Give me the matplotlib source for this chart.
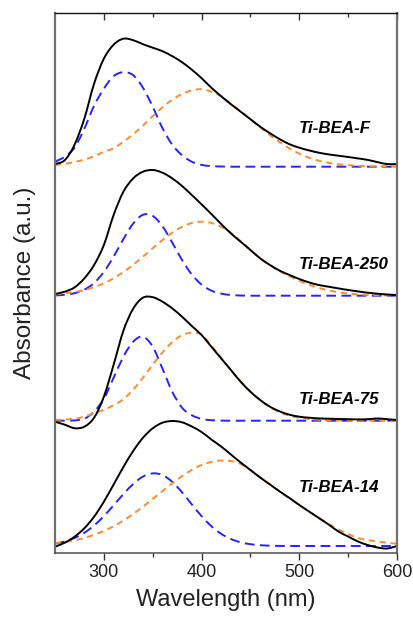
import matplotlib
matplotlib.use("Agg")
import matplotlib.pyplot as plt
from matplotlib.path import Path
from matplotlib.patches import PathPatch

# ---------------- data ----------------
wavelength = [250, 260, 270, 280, 290, 300, 310, 320, 330, 340, 350, 360,
              370, 380, 390, 400, 410, 420, 430, 440, 450, 460, 470, 480,
              490, 500, 510, 520, 530, 540, 550, 560, 570, 580, 590, 600]

samples = ["Ti-BEA-F", "Ti-BEA-250", "Ti-BEA-75", "Ti-BEA-14"]

total_F = [2.7, 6.5, 22, 48, 83, 108, 122, 128, 126.5, 122.5, 119, 115.5,
           110.5, 104.5, 97, 88.5, 79, 70.5, 62.5, 55, 47.5, 40, 33.5, 27.5,
           22.5, 19, 16.3, 14, 12.3, 11, 9.7, 8.3, 6.8, 4.6, 2.6, 2.7]
band1_F = [5, 10, 19, 38, 61, 78, 90.5, 94.5, 91.5, 79, 60, 38.5,
           22, 11.5, 5, 1.8, 0.6, 0.2, 0, 0, 0, 0, 0, 0,
           0, 0, 0, 0, 0, 0, 0, 0, 0, 0, 0, 0]
band2_F = [1.8, 2.9, 4.7, 7.1, 10.5, 14.9, 18.5, 25, 32.5, 41, 50.5, 59.5,
           67, 72.8, 76.3, 77.5, 75, 70.5, 63, 55.5, 47.5, 39.5, 31.5, 24.5,
           18.2, 13, 9, 6, 3.9, 2.4, 1.5, 0.9, 0.5, 0.3, 0.2, 0.1]

total_250 = [1.7, 4, 8.3, 17.3, 30.7, 50.7, 80.7, 104, 117.3, 124, 125.7, 123,
             117.3, 109.7, 100.7, 91.3, 81.7, 71.7, 62.3, 54, 45.7, 37.3, 30.7, 25,
             20.7, 16.7, 13.3, 10.7, 9, 7.3, 5.7, 4.3, 3, 2, 1.2, 0.7]
band1_250 = [0.3, 0.9, 2.5, 6, 12.7, 23.8, 39.1, 56.6, 72.1, 80.9, 79.8, 69.4,
             53.1, 35.7, 21.2, 11.1, 5.1, 2.1, 0.7, 0.2, 0, 0, 0, 0,
             0, 0, 0, 0, 0, 0, 0, 0, 0, 0, 0, 0]
band2_250 = [1.3, 2.3, 3.7, 5.7, 8.6, 12.5, 17.5, 23.7, 30.9, 39, 47.4, 55.7,
             63, 68.9, 72.7, 74, 72.7, 68.9, 63, 54.5, 46, 37.5, 30.5, 24.5,
             19.5, 15, 11, 7.8, 5.3, 3.5, 2.2, 1.4, 0.8, 0.5, 0.3, 0.2]

total_75 = [-1, -4, -7.5, -6, 3, 24, 56, 90, 112, 123, 123.5, 119,
            112.3, 104, 94.7, 85.7, 74, 62.3, 50.7, 39, 29, 20.7, 14, 9.3,
            6, 4, 3, 2.3, 2, 1.7, 1.5, 1.3, 1.5, 2.2, 1.5, 0.7]
band1_75 = [0, 0.05, 0.3, 2, 9, 22, 43, 64, 79, 84, 74, 52,
            29, 13, 5.5, 1.8, 0.5, 0.1, 0, 0, 0, 0, 0, 0,
            0, 0, 0, 0, 0, 0, 0, 0, 0, 0, 0, 0]
band2_75 = [0.7, 1.2, 2, 4, 7.5, 11, 15.5, 21.5, 31, 43, 55.9, 68.2,
            78.6, 85.5, 88, 86, 75, 63, 50.7, 39, 29, 20.5, 13.5, 8.5,
            5, 3, 1.7, 1, 0.5, 0.3, 0.2, 0.1, 0.1, 0.05, 0, 0]

total_14 = [-0.7, 3.3, 9.3, 17.7, 29.3, 44.3, 61.5, 79, 95, 108.2, 117.7, 123.3,
            125, 123.7, 119.5, 114, 106.5, 99.5, 91.5, 83.5, 76, 68.5, 61.5, 54.5,
            48, 41, 34.5, 28, 21.5, 14.5, 9.5, 4.5, 1, -1.5, -2.5, 0]
band1_14 = [2.4, 4.5, 8, 13.2, 20.5, 29.9, 40.7, 51.9, 62, 69.4, 72.6, 71,
            64.1, 53.7, 41.6, 29.9, 19.8, 12.2, 7, 3.7, 1.8, 0.8, 0.3, 0.1,
            0, 0, 0, 0, 0, 0, 0, 0, 0, 0, 0, 0]
band2_14 = [2.7, 4, 5.7, 8.1, 11.2, 15.1, 19.8, 25.5, 32, 39.3, 47, 54.9,
            62.7, 69.9, 76.1, 81, 84.1, 85.5, 85, 82, 76, 68.5, 61.5, 54.5,
            47.5, 41, 34.5, 28, 22, 16.5, 12, 8, 6, 4.5, 3.2, 2.3]

totals = [total_F, total_250, total_75, total_14]
bands1 = [band1_F, band1_250, band1_75, band1_14]
bands2 = [band2_F, band2_250, band2_75, band2_14]

# ---------------- layout / style ----------------
offsets = [386.3, 257.3, 132.3, 7.0]
label_x = 499
label_dy = [38.2, 31.2, 21.7, 58.5]

plt.rcParams['font.family'] = ['Liberation Sans', 'DejaVu Sans']

fig = plt.figure(figsize=(4.13, 6.17), dpi=100)
ax = fig.add_axes([55 / 413, 1 - 553 / 617, (397 - 55) / 413, (553 - 13) / 617])

BLUE = '#2424ff'
ORANGE = '#ff8a2a'


def smooth_curve(ax, xs, ys, **kw):
    """Draw a line through the data points as a smooth (Catmull-Rom style)
    Bezier path in data coordinates."""
    n = len(xs)
    verts = [(xs[0], ys[0])]
    codes = [Path.MOVETO]
    for i in range(n - 1):
        x0, y0 = xs[max(i - 1, 0)], ys[max(i - 1, 0)]
        x1, y1 = xs[i], ys[i]
        x2, y2 = xs[i + 1], ys[i + 1]
        x3, y3 = xs[min(i + 2, n - 1)], ys[min(i + 2, n - 1)]
        c1 = (x1 + (x2 - x0) / 6.0, y1 + (y2 - y0) / 6.0)
        c2 = (x2 - (x3 - x1) / 6.0, y2 - (y3 - y1) / 6.0)
        verts += [c1, c2, (x2, y2)]
        codes += [Path.CURVE4, Path.CURVE4, Path.CURVE4]
    patch = PathPatch(Path(verts, codes), fill=False, transform=ax.transData,
                      capstyle='butt', joinstyle='round', **kw)
    ax.add_patch(patch)
    return patch


for tot, b1, b2, off, name, dy in zip(totals, bands1, bands2, offsets, samples, label_dy):
    smooth_curve(ax, wavelength, [v + off for v in b1], edgecolor=BLUE, lw=1.4,
                 linestyle=(0, (5.0, 2.8)))
    smooth_curve(ax, wavelength, [v + off for v in b2], edgecolor=ORANGE, lw=1.4,
                 linestyle=(0, (3.2, 2.4)))
    smooth_curve(ax, wavelength, [v + off for v in tot], edgecolor='black', lw=1.4)
    ax.text(label_x, off + dy, name, fontsize=12.2, fontweight='bold',
            fontstyle='italic', ha='left', va='center')

ax.set_xlim(250, 600)
ax.set_ylim(0, 540)
ax.set_xticks([300, 400, 500, 600])
ax.set_xticks([350, 450, 550], minor=True)
ax.set_yticks([])
ax.tick_params(axis='x', which='major', direction='out', length=5, width=1,
               labelsize=13, pad=3, colors='#333333', labelcolor='#222222')
ax.tick_params(axis='x', which='minor', direction='out', length=3, width=1,
               colors='#333333')

top = ax.secondary_xaxis('top')
top.set_xticks([300, 400, 500, 600])
top.set_xticks([350, 450, 550], minor=True)
top.tick_params(axis='x', which='major', direction='in', length=5, width=1,
                labeltop=False, colors='#333333')
top.tick_params(axis='x', which='minor', direction='in', length=3, width=1,
                colors='#333333')
top.spines['top'].set_visible(False)

for side in ['left', 'right']:
    ax.spines[side].set_color('#707070')
    ax.spines[side].set_linewidth(1.6)
ax.spines['bottom'].set_color('#505050')
ax.spines['bottom'].set_linewidth(1.1)
ax.spines['top'].set_color('#111111')
ax.spines['top'].set_linewidth(1.0)

ax.set_xlabel('Wavelength (nm)', fontsize=17, labelpad=6, color='#222222')
ax.set_ylabel('Absorbance (a.u.)', fontsize=17.5, labelpad=14, color='#222222')

fig.savefig('out.png', dpi=100)
